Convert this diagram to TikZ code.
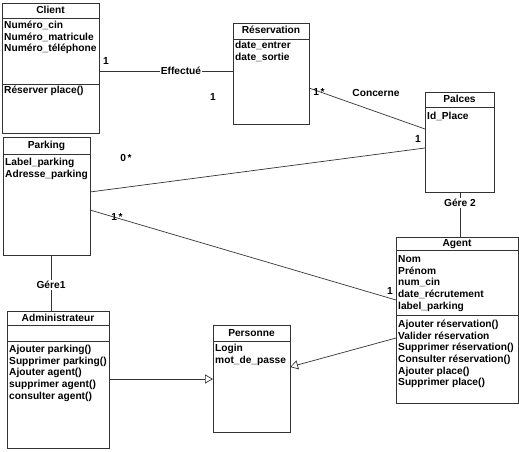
\documentclass[tikz,border=0pt]{standalone}
\usepackage{fontspec}
\setmainfont{Liberation Sans}
\usetikzlibrary{arrows.meta,calc}
\begin{document}
\begin{tikzpicture}[x=1pt,y=-1pt,
 cls/.style={draw=black!80, line width=0.8pt, anchor=north west, inner sep=0pt, outer sep=0pt},
 sepl/.style={draw=black!80, line width=0.8pt},
 txt/.style={anchor=base west, inner sep=0pt, font=\bfseries\fontsize{10.2}{12}\selectfont, text=black},
 ttl/.style={anchor=base, inner sep=0pt, font=\bfseries\fontsize{10.2}{12}\selectfont, text=black},
 lbl/.style={fill=white, inner sep=1pt, font=\bfseries\fontsize{10.2}{12}\selectfont, text=black},
 conn/.style={draw=black!80, line width=0.7pt},
 gen/.style={conn, -{Triangle[open, length=8pt, width=9pt]}}]
\useasboundingbox[fill=white] (0,0) rectangle (519,452);

% ---- Client
\node[cls, minimum width=97pt, minimum height=130pt] (client) at (2,3) {};
\draw[sepl] (2,18) -- (99,18);
\draw[sepl] (2,84) -- (99,84);
\node[ttl] (clientT) at (50.5,13.5) {Client};
\foreach \t [count=\i] in {Numéro\_cin,Numéro\_matricule,Numéro\_téléphone}
  \node[txt] (clientA\i) at (4,28.6+11.6*\i-11.6) {\t};
\node[txt] (clientM1) at (4,93.6) {Réserver place()};

% ---- Reservation
\node[cls, minimum width=76pt, minimum height=101pt] (res) at (233,23) {};
\draw[sepl] (233,39) -- (309,39);
\node[ttl] (resT) at (271,33.6) {Réservation};
\foreach \t [count=\i] in {date\_entrer,date\_sortie}
  \node[txt] (resA\i) at (235,48.6+11.6*\i-11.6) {\t};

% ---- Palces
\node[cls, minimum width=69pt, minimum height=100pt] (pl) at (425,92) {};
\draw[sepl] (425,107) -- (494,107);
\node[ttl] (plT) at (459.5,102.6) {Palces};
\node[txt] (plA1) at (427,119.6) {Id\_Place};

% ---- Parking
\node[cls, minimum width=87pt, minimum height=118pt] (park) at (3,137) {};
\draw[sepl] (3,154) -- (90,154);
\node[ttl] (parkT) at (46.5,148.6) {Parking};
\foreach \t [count=\i] in {Label\_parking,Adresse\_parking}
  \node[txt] (parkA\i) at (5,165.6+11.6*\i-11.6) {\t};

% ---- Agent
\node[cls, minimum width=122pt, minimum height=166pt] (agent) at (396,237) {};
\draw[sepl] (396,250) -- (518,250);
\draw[sepl] (396,315) -- (518,315);
\node[ttl] (agentT) at (457,246.6) {Agent};
\foreach \t [count=\i] in {Nom,Prénom,num\_cin,date\_récrutement,label\_parking}
  \node[txt] (agentA\i) at (398,262.6+11.6*\i-11.6) {\t};
\foreach \t [count=\i] in {Ajouter réservation(),Valider réservation,Supprimer réservation(),Consulter réservation(),Ajouter place(),Supprimer place()}
  \node[txt] (agentM\i) at (398,327.6+11.6*\i-11.6) {\t};

% ---- Administrateur
\node[cls, minimum width=102pt, minimum height=137pt] (admin) at (7,311) {};
\draw[sepl] (7,325) -- (109,325);
\draw[sepl] (7,341) -- (109,341);
\node[ttl] (adminT) at (58,321.6) {Administrateur};
\foreach \t [count=\i] in {Ajouter parking(),Supprimer parking(),Ajouter agent(),supprimer agent(),consulter agent()}
  \node[txt] (adminM\i) at (9,352.6+11.6*\i-11.6) {\t};

% ---- Personne
\node[cls, minimum width=77pt, minimum height=107pt] (pers) at (213,325) {};
\draw[sepl] (213,341) -- (290,341);
\node[ttl] (persT) at (251.5,336.6) {Personne};
\foreach \t [count=\i] in {Login,mot\_de\_passe}
  \node[txt] (persA\i) at (215,351.6+11.6*\i-11.6) {\t};

% ---- Connectors
\node[lbl] (eff) at (181,71) {Effectué};
\draw[conn] (client.east |- eff) -- (eff) -- (res.west |- eff);
\node[lbl, fill=none] (m1) at (106,61) {1};
\node[lbl, fill=none] (m2) at (213,97) {1};

\draw[conn] ($(res.north east)+(0,65)$) -- ($(pl.north west)+(0,37)$);
\node[lbl, fill=none] (m3) at (319,92) {1\,*};
\node[lbl, fill=none] (conc) at (376,93) {Concerne};

\draw[conn] ($(park.north east)+(0,55)$) -- ($(pl.north west)+(0,56)$);
\node[lbl, fill=none] (m4) at (126,158) {0\,*};
\node[lbl, fill=none] (m5) at (418,139) {1};

\node[lbl] (m6) at (117,217) {1\,*};
\draw[conn] ($(park.north east)+(0,73)$) -- ($(agent.north west)+(0,63)$);
\node[lbl, fill=none] (m7) at (390,291) {1};

\node[lbl] (g2) at (460,203) {Gére 2};
\draw[conn] (g2 |- pl.south) -- (g2) -- (g2 |- agent.north);

\node[lbl] (g1) at (51,285) {Gére1};
\draw[conn] (g1 |- park.south) -- (g1) -- (g1 |- admin.north);

\draw[gen] ($(admin.north east)+(0,68)$) -- ($(pers.north west)+(0,54)$);
\draw[gen] ($(agent.north west)+(0,101)$) -- ($(pers.north east)+(0,42)$);
\end{tikzpicture}
\end{document}
